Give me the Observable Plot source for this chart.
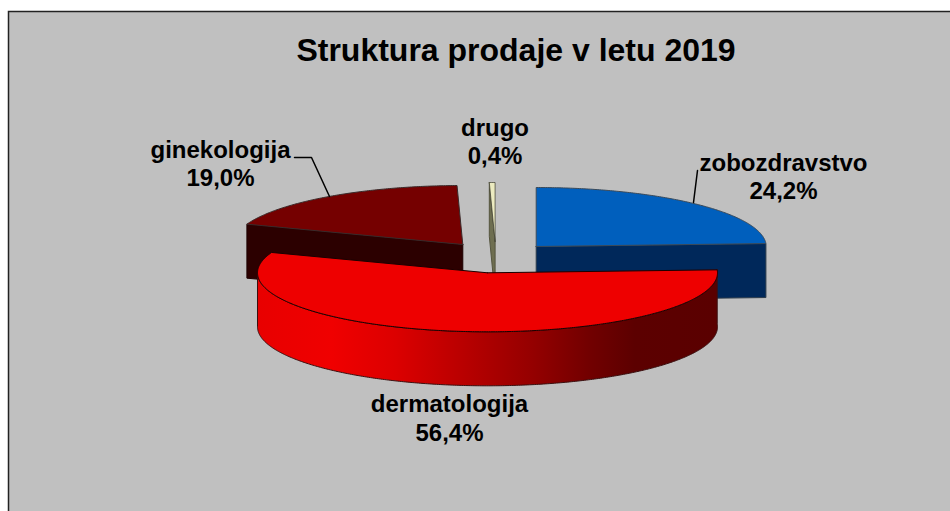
<!DOCTYPE html>
<html><head><meta charset="utf-8">
<script src="https://cdn.jsdelivr.net/npm/d3@7"></script>
<script src="https://cdn.jsdelivr.net/npm/@observablehq/plot@0.6"></script>
<style>html,body{margin:0;padding:0;background:#fff}svg{display:block}</style>
</head><body><div id="chart"></div>
<script>
// Data
const categories = ["zobozdravstvo", "dermatologija", "ginekologija", "drugo"];
const shares = [24.2, 56.4, 19.0, 0.4];
const titleText = "Struktura prodaje v letu 2019";

// Pie layout (pixel-mapped chart space)
const rx = 230, ry = 59, depth = 54;
const centers = [[535.7, 246], [487, 272.3], [462.3, 244], [494.6, 241]];
const labelAt = [[783, 175.5], [449, 417], [220, 162.5], [494.5, 140.5]];
const total = d3.sum(shares);
let acc = 0;
const slices = shares.map((v, i) => {
  const a0 = acc / total * 2 * Math.PI;
  acc += v;
  return {name: categories[i], value: v, a0, a1: acc / total * 2 * Math.PI, cx: centers[i][0], cy: centers[i][1]};
});
const pt = (s, a, dz = 0) => ({x: s.cx + rx * Math.sin(a), y: s.cy - ry * Math.cos(a) + dz});
const arc = (s, a0, a1, dz = 0) => {
  const n = Math.max(2, Math.ceil(Math.abs(a1 - a0) / 0.01));
  return d3.range(n + 1).map(k => pt(s, a0 + (a1 - a0) * k / n, dz));
};
const apex = (s, dz = 0) => ({x: s.cx, y: s.cy + dz});
const closed = p => [...p, p[0]];
const topFace = s => closed([apex(s), ...arc(s, s.a0, s.a1)]);
const radial = (s, a) => closed([apex(s), pt(s, a), pt(s, a, depth), apex(s, depth)]);
const poly = (pts, fill, stroke, sw = 1) => Plot.line(pts, {x: "x", y: "y", fill, stroke, strokeWidth: sw, curve: "linear", strokeLinejoin: "round"});

const [blue, red, gin, oth] = slices;
const redSide = closed([...arc(red, red.a0, 1.5 * Math.PI), ...arc(red, 1.5 * Math.PI, red.a0, depth)]);
const othSide = closed([pt(oth, oth.a0), apex(oth), apex(oth, depth), pt(oth, oth.a0, depth)]);

const defs = () => {
  const d = d3.create("svg:defs");
  const g = d.append("linearGradient").attr("id", "redSide").attr("x1", 0).attr("x2", 1).attr("y1", 0).attr("y2", 0);
  [[0, "#e80000"], [0.16, "#f00000"], [0.3, "#dc0000"], [0.45, "#b80000"], [0.6, "#940000"], [0.72, "#720000"], [0.82, "#5c0000"], [1, "#5a0000"]]
    .forEach(([o, c]) => g.append("stop").attr("offset", o).attr("stop-color", c));
  return d.node();
};

const labels = slices.map((s, i) => ({x: labelAt[i][0], y: labelAt[i][1], text: `${s.name}\n${s.value.toFixed(1).replace(".", ",")}%`}));
const leaders = [
  [{x: 697, y: 170}, {x: 693, y: 202}],
  [{x: 294, y: 157}, {x: 311, y: 157}, {x: 329, y: 196}]
];

const chart = Plot.plot({
  width: 950, height: 511, margin: 0,
  x: {domain: [0, 950], range: [0, 950], axis: null},
  y: {domain: [0, 511], range: [0, 511], axis: null},
  style: {background: "#fff"},
  marks: [
    defs,
    Plot.rect([{}], {x1: () => 8.5, x2: () => 980, y1: () => 11.5, y2: () => 540, fill: "#c0c0c0", stroke: "#222", strokeWidth: 1.5}),
    // zobozdravstvo
    poly(radial(blue, blue.a1), "#00285a", "#2a3a4a"),
    poly(topFace(blue), "#005fbd", "#3a4a5a"),
    // drugo
    poly(othSide, "#6e6e50", "#55553f"),
    poly(topFace(oth), "#ecebc0", "#3a3a2c", 0.7),
    // ginekologija
    poly(radial(gin, gin.a0), "#2c0000", "#1c0000"),
    poly(topFace(gin), "#750000", "#3a2a2a"),
    // dermatologija
    poly(redSide, "url(#redSide)", "#3a1010"),
    poly(topFace(red), "#ee0000", "#1a0000"),
    // leader lines
    ...leaders.map(l => Plot.line(l, {x: "x", y: "y", stroke: "#000", strokeWidth: 1.5, curve: "linear"})),
    // labels
    Plot.text(labels, {x: "x", y: "y", text: "text", fontFamily: "Liberation Sans", fontWeight: "bold", fontSize: 24, lineHeight: 1.17, fill: "#000", textAnchor: "middle"}),
    Plot.text([titleText], {x: () => 515.5, y: () => 50, text: d => d, fontFamily: "Liberation Sans", fontWeight: "bold", fontSize: 32, fill: "#000", textAnchor: "middle"})
  ]
});
document.getElementById("chart").append(chart);
</script></body></html>
